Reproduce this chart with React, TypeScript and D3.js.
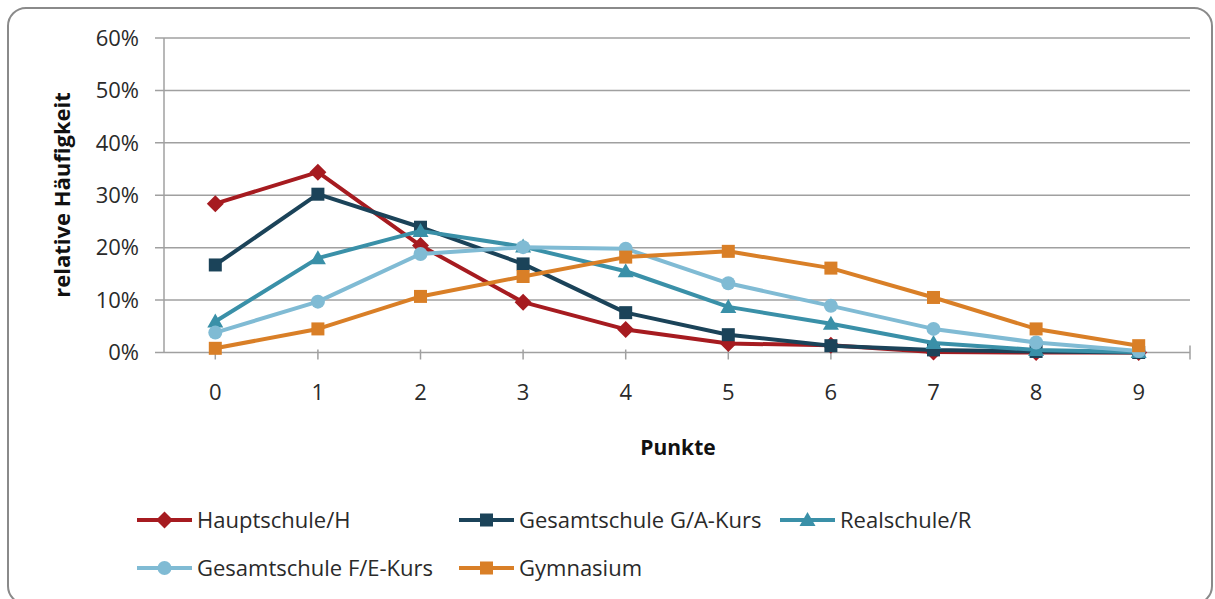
import React from "react";
import * as d3 from "d3";

const categories = ["0", "1", "2", "3", "4", "5", "6", "7", "8", "9"];
const yTicks = [0, 0.1, 0.2, 0.3, 0.4, 0.5, 0.6];

const hauptschule = [0.284, 0.344, 0.204, 0.096, 0.044, 0.017, 0.014, 0.001, 0.0, 0.0];
const gesamtGA = [0.167, 0.302, 0.239, 0.169, 0.076, 0.034, 0.013, 0.005, 0.002, 0.0];
const realschule = [0.059, 0.18, 0.232, 0.202, 0.155, 0.087, 0.055, 0.018, 0.005, 0.001];
const gesamtFE = [0.038, 0.097, 0.188, 0.201, 0.198, 0.132, 0.089, 0.045, 0.019, 0.003];
const gymnasium = [0.008, 0.045, 0.107, 0.145, 0.182, 0.193, 0.161, 0.105, 0.045, 0.013];

type Series = { name: string; values: number[]; color: string; marker: "diamond" | "square" | "triangle" | "circle" };

const series: Series[] = [
  { name: "Hauptschule/H", values: hauptschule, color: "#A61B20", marker: "diamond" },
  { name: "Gesamtschule G/A-Kurs", values: gesamtGA, color: "#1B4359", marker: "square" },
  { name: "Realschule/R", values: realschule, color: "#3A90A8", marker: "triangle" },
  { name: "Gesamtschule F/E-Kurs", values: gesamtFE, color: "#80BBD4", marker: "circle" },
  { name: "Gymnasium", values: gymnasium, color: "#D97F27", marker: "square" },
];

const W = 1215;
const H = 599;
const left = 164;
const right = 1190;
const top = 38;
const bottom = 352.5;
const font = "'Open Sans', 'Noto Sans', sans-serif";

function Marker({ type, x, y, color }: { type: string; x: number; y: number; color: string }) {
  if (type === "diamond") {
    const s = 8.5;
    return <path d={`M${x},${y - s}L${x + s},${y}L${x},${y + s}L${x - s},${y}Z`} fill={color} />;
  }
  if (type === "square") {
    const s = 6.5;
    return <rect x={x - s} y={y - s} width={2 * s} height={2 * s} fill={color} />;
  }
  if (type === "triangle") {
    const s = 8;
    return <path d={`M${x},${y - s}L${x + s},${y + s * 0.75}L${x - s},${y + s * 0.75}Z`} fill={color} />;
  }
  return <circle cx={x} cy={y} r={7} fill={color} />;
}

export default function App() {
  const x = d3.scaleBand<string>().domain(categories).range([left, right]);
  const y = d3.scaleLinear().domain([0, 0.6]).range([bottom, top]);
  const cx = (c: string) => (x(c) as number) + x.bandwidth() / 2;
  const line = d3
    .line<number>()
    .x((_, i) => cx(categories[i]))
    .y((d) => y(d));

  const legendCols = [137, 459, 780];
  const legendRows = [520, 568];

  return (
    <svg width={W} height={H} style={{ position: "absolute", left: 0, top: 0, background: "#fff" }}>
      <rect x={8} y={8} width={1204} height={596} rx={18} ry={18} fill="#fff" stroke="#8a8a8a" strokeWidth={2} />
      {yTicks.map((t) => (
        <g key={t}>
          <line x1={155} x2={right} y1={y(t)} y2={y(t)} stroke="#a0a0a0" strokeWidth={1.5} />
          <text x={139} y={y(t)} dy="0.35em" textAnchor="end" fontFamily={font} fontSize={22} fill="#2a2a2a">
            {d3.format(".0%")(t)}
          </text>
        </g>
      ))}
      <line x1={left} x2={left} y1={top} y2={bottom} stroke="#a0a0a0" strokeWidth={1.5} />
      {categories.map((c) => (
        <g key={c}>
          <line x1={cx(c)} x2={cx(c)} y1={bottom - 3} y2={bottom + 7} stroke="#a0a0a0" strokeWidth={1.5} />
          <text x={cx(c)} y={392} dy="0.35em" textAnchor="middle" fontFamily={font} fontSize={22} fill="#2a2a2a">
            {c}
          </text>
        </g>
      ))}
      <line x1={right} x2={right} y1={bottom - 7} y2={bottom + 7} stroke="#a0a0a0" strokeWidth={1.5} />
      <text x={678} y={448} dy="0.35em" textAnchor="middle" fontFamily={font} fontSize={21} fontWeight="bold" fill="#111">
        Punkte
      </text>
      <text
        transform={`translate(62,195) rotate(-90)`}
        dy="0.35em"
        textAnchor="middle"
        fontFamily={font}
        fontSize={22}
        fontWeight="bold"
        fill="#111"
      >
        relative Häufigkeit
      </text>
      {series.map((s) => (
        <g key={s.name}>
          <path d={line(s.values) || ""} fill="none" stroke={s.color} strokeWidth={4} strokeLinejoin="round" />
          {s.values.map((v, i) => (
            <Marker key={i} type={s.marker} x={cx(categories[i])} y={y(v)} color={s.color} />
          ))}
        </g>
      ))}
      {series.map((s, i) => {
        const lx = legendCols[i % 3];
        const ly = legendRows[Math.floor(i / 3)];
        return (
          <g key={"lg" + s.name}>
            <line x1={lx} x2={lx + 55} y1={ly} y2={ly} stroke={s.color} strokeWidth={4} />
            <Marker type={s.marker} x={lx + 27.5} y={ly} color={s.color} />
            <text x={lx + 60} y={ly} dy="0.35em" fontFamily={font} fontSize={22} fill="#2a2a2a">
              {s.name}
            </text>
          </g>
        );
      })}
    </svg>
  );
}
